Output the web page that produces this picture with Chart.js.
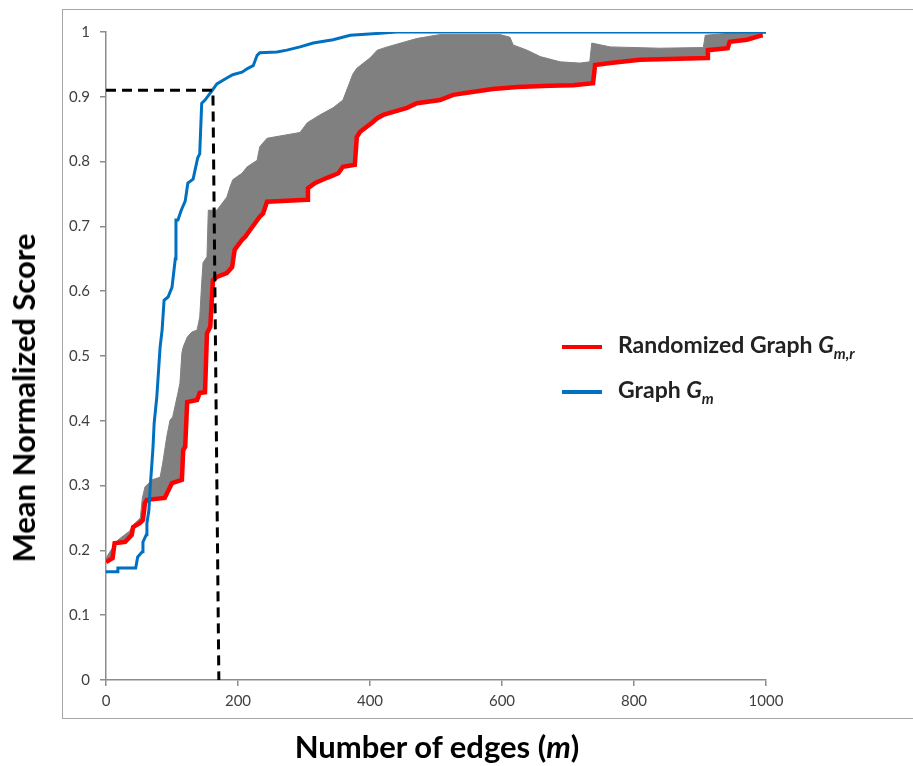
<!DOCTYPE html>
<html lang="en">
<head>
  <meta charset="UTF-8">
  <title>Mean Normalized Score vs Number of edges</title>
  <script src="https://cdn.jsdelivr.net/npm/chart.js"></script>
  <style>
    body {
      margin: 0;
      background: #fff;
      width: 913px;
      height: 766px;
      overflow: hidden;
      position: relative;
      font-family: Lato, 'Open Sans', sans-serif;
    }

    .frame {
      position: absolute;
      left: 62px;
      top: 9px;
      width: 870px;
      height: 708px;
      border: 1.5px solid #a6a6a6;
    }

    #chartBox {
      position: absolute;
      left: 0;
      top: 0;
    }

    .ytitle {
      position: absolute;
      left: 23px;
      top: 398px;
      transform: translate(-50%, -50%) rotate(-90deg);
      font-weight: bold;
      font-size: 31px;
      white-space: nowrap;
      color: #000;
    }

    .xtitle {
      position: absolute;
      left: 437px;
      top: 746px;
      transform: translate(-50%, -50%);
      font-weight: bold;
      font-size: 31px;
      white-space: nowrap;
      color: #000;
    }

    .legend {
      position: absolute;
      left: 562px;
      font-weight: bold;
      font-size: 23px;
      line-height: 28px;
      color: #222;
      white-space: nowrap;
    }

    .legend .swatch {
      display: inline-block;
      width: 40px;
      height: 4px;
      vertical-align: middle;
      margin-right: 16px;
    }

    sub { font-size: 15px; }
  </style>
</head>
<body>

  <div class="frame"></div>
  <canvas id="chartBox" width="913" height="766"></canvas>

  <div class="ytitle">Mean Normalized Score</div>
  <div class="xtitle">Number of edges (<i>m</i>)</div>

  <div class="legend" style="top: 330px;">
    <span class="swatch" style="background:#ff0000"></span>Randomized Graph <i>G<sub>m,r</sub></i>
  </div>
  <div class="legend" style="top: 375px;">
    <span class="swatch" style="background:#0070c0"></span>Graph <i>G<sub>m</sub></i>
  </div>

  <script>
    // Graph G_m (blue)
    const graphX = [0, 18, 18, 45, 48, 55, 56, 61, 62, 65, 67, 71, 73, 77, 79, 82, 85, 88, 94, 100, 105, 106, 109, 114, 120, 124, 132, 139, 142, 145, 150, 161, 168, 183, 192, 206, 215, 223, 229, 233, 259, 274, 294, 314, 344, 370, 415, 440, 1000];
    const graphY = [0.167, 0.167, 0.173, 0.173, 0.19, 0.198, 0.213, 0.224, 0.242, 0.262, 0.298, 0.355, 0.397, 0.437, 0.468, 0.514, 0.54, 0.586, 0.591, 0.606, 0.65, 0.71, 0.71, 0.725, 0.739, 0.767, 0.773, 0.806, 0.812, 0.89, 0.895, 0.91, 0.92, 0.929, 0.934, 0.938, 0.944, 0.948, 0.964, 0.968, 0.969, 0.972, 0.977, 0.983, 0.988, 0.995, 0.998, 1, 1];

    // Randomized graph G_m,r (red, mean)
    const randX = [0, 10, 13, 29, 39, 41, 51, 56, 59, 62, 89, 100, 115, 117, 120, 123, 138, 142, 150, 153, 158, 162, 168, 183, 191, 195, 206, 211, 218, 233, 238, 244, 305, 306, 317, 335, 352, 359, 377, 380, 385, 403, 411, 420, 456, 471, 506, 526, 552, 586, 623, 673, 708, 738, 741, 764, 809, 911, 912, 942, 945, 971, 991, 995];
    const randY = [0.182, 0.188, 0.211, 0.213, 0.224, 0.236, 0.242, 0.247, 0.273, 0.278, 0.281, 0.304, 0.309, 0.355, 0.36, 0.429, 0.432, 0.443, 0.444, 0.535, 0.545, 0.617, 0.622, 0.628, 0.637, 0.664, 0.679, 0.684, 0.694, 0.715, 0.72, 0.738, 0.741, 0.759, 0.767, 0.775, 0.782, 0.792, 0.795, 0.838, 0.846, 0.86, 0.867, 0.872, 0.883, 0.89, 0.895, 0.903, 0.907, 0.912, 0.915, 0.917, 0.918, 0.921, 0.949, 0.952, 0.957, 0.96, 0.972, 0.975, 0.985, 0.988, 0.994, 0.995];

    // upper end of the grey error band
    const bandX = [0, 6, 18, 36, 41, 52, 55, 59, 70, 82, 86, 92, 97, 101, 109, 112, 115, 117, 123, 130, 138, 142, 145, 147, 153, 155, 168, 183, 188, 192, 206, 214, 229, 233, 244, 294, 305, 324, 344, 359, 374, 380, 400, 411, 426, 471, 506, 597, 612, 617, 638, 658, 688, 718, 733, 736, 764, 839, 905, 908, 945, 1000];
    const bandY = [0.188, 0.198, 0.216, 0.23, 0.239, 0.25, 0.28, 0.298, 0.309, 0.313, 0.335, 0.375, 0.401, 0.406, 0.443, 0.458, 0.505, 0.514, 0.529, 0.537, 0.54, 0.56, 0.613, 0.644, 0.653, 0.725, 0.725, 0.745, 0.761, 0.772, 0.782, 0.792, 0.802, 0.823, 0.836, 0.845, 0.86, 0.872, 0.883, 0.895, 0.935, 0.944, 0.96, 0.972, 0.977, 0.99, 0.996, 0.996, 0.992, 0.98, 0.972, 0.962, 0.954, 0.952, 0.954, 0.983, 0.977, 0.975, 0.976, 0.995, 0.998, 0.998];

    // dashed guide at the 0.91 level
    const cutX = [0, 162, 171];
    const cutY = [0.91, 0.91, 0];

    const xTicks = [0, 200, 400, 600, 800, 1000];

    const pts = (xs, ys) => xs.map((x, i) => ({ x: x, y: ys[i] }));

    const axisColor = '#8c8c8c';

    new Chart(document.getElementById('chartBox').getContext('2d'), {
      type: 'line',
      data: {
        datasets: [
          {
            label: 'band',
            data: pts(bandX, bandY),
            borderColor: '#808080',
            backgroundColor: '#808080',
            borderWidth: 1,
            fill: 1,
            order: 4
          },
          {
            label: 'Randomized Graph',
            data: pts(randX, randY),
            borderColor: '#ff0000',
            borderWidth: 4.5,
            fill: false,
            order: 3
          },
          {
            label: 'Graph',
            data: pts(graphX, graphY),
            borderColor: '#0070c0',
            borderWidth: 3,
            fill: false,
            order: 2
          },
          {
            label: 'cut',
            data: pts(cutX, cutY),
            borderColor: '#000',
            borderWidth: 3,
            borderDash: [10, 6],
            fill: false,
            order: 1
          }
        ]
      },
      options: {
        responsive: false,
        animation: false,
        elements: {
          point: { radius: 0 },
          line: { tension: 0 }
        },
        layout: {
          padding: { left: 62, top: 32, right: 147, bottom: 48 }
        },
        plugins: {
          legend: { display: false },
          tooltip: { enabled: false }
        },
        scales: {
          x: {
            type: 'linear',
            min: 0,
            max: 1000,
            afterBuildTicks: (s) => { s.ticks = xTicks.map(v => ({ value: v })); },
            afterFit: (s) => { s.height = 38; },
            ticks: {
              callback: (v) => String(v),
              color: '#404040',
              font: { family: 'Lato', size: 15 },
              padding: 6,
              maxRotation: 0
            },
            grid: { drawOnChartArea: false, drawTicks: true, tickLength: 6, color: axisColor, lineWidth: 1.5 },
            border: { display: true, color: axisColor, width: 1.5 }
          },
          y: {
            min: 0,
            max: 1,
            afterFit: (s) => { s.width = 44; },
            ticks: {
              stepSize: 0.1,
              callback: (v) => String(Math.round(v * 10) / 10),
              color: '#404040',
              font: { family: 'Lato', size: 15 },
              padding: 10
            },
            grid: { drawOnChartArea: false, drawTicks: true, tickLength: 6, color: axisColor, lineWidth: 1.5 },
            border: { display: true, color: axisColor, width: 1.5 }
          }
        }
      }
    });
  </script>

</body>
</html>
